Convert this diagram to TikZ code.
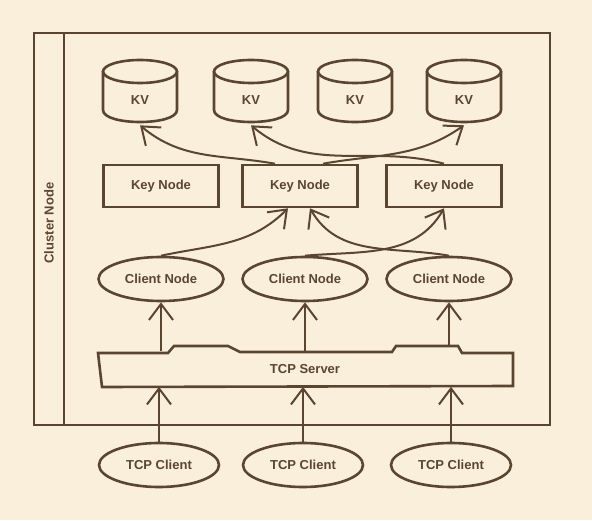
\documentclass[tikz,border=0pt]{standalone}
\usepackage{fontspec}
\setmainfont{Liberation Sans}
\usetikzlibrary{arrows.meta,shapes.geometric}
\definecolor{fon}{HTML}{FAEFDB}
\definecolor{ink}{HTML}{5A4630}

\begin{document}
\begin{tikzpicture}[x=1pt,y=1pt,color=ink,line width=2.6pt,
    font=\fontsize{13}{15}\selectfont\bfseries,
    keybox/.style={draw,rectangle,minimum width=115pt,minimum height=42pt,inner sep=0pt},
    oval/.style={draw,ellipse,minimum width=#1,minimum height=44pt,inner sep=0pt},
    link/.style={line width=2pt,-{Straight Barb[length=16pt,width=24pt]}}]
        % Фон
        \fill[fon] (0,0) rectangle (592,520);
        \useasboundingbox (0,0) rectangle (592,520);

        % Кластер
        \draw (34,95) rectangle (550,487);
        \draw (64,95) -- (64,487);
        \node[rotate=90] (clus) at (49,297) {Cluster Node};

        % Хранилища
        \foreach \i/\x in {1/140,2/251,3/355,4/464}
        {
            \draw (\x,448.5) ellipse (37 and 11.5);
            \draw (\x-37,448.5) -- (\x-37,410)
                .. controls (\x-37,394) and (\x+37,394) .. (\x+37,410) -- (\x+37,448.5);
            \node[minimum height=48pt] (kv\i) at (\x,420) {KV};
        }

        % Узлы ключей
        \node[keybox] (key1) at (161,334) {Key Node};
        \node[keybox] (key2) at (300,334) {Key Node};
        \node[keybox] (key3) at (444,334) {Key Node};

        % Клиентские узлы
        \node[oval=125pt] (cli1) at (161,241) {Client Node};
        \node[oval=125pt] (cli2) at (305,241) {Client Node};
        \node[oval=125pt] (cli3) at (449,241) {Client Node};

        % Сервер
        \draw (98,167) -- (168,167) -- (174,174) -- (228,174) -- (240,168)
            -- (392,168) -- (396,174) -- (458,174) -- (462,167) -- (513,167)
            -- (513,134) -- (102,133) -- cycle;
        \node[minimum width=410pt,minimum height=33pt] (srv) at (305,151) {TCP Server};

        % TCP-клиенты
        \node[oval=120pt] (tcp1) at (159,55) {TCP Client};
        \node[oval=120pt] (tcp2) at (303,55) {TCP Client};
        \node[oval=120pt] (tcp3) at (451,55) {TCP Client};

        % Вертикальные стрелки
        \foreach \i/\s in {1/0,2/0,3/6}
        {
            \draw[link] (tcp\i.north) -- (tcp\i.north |- srv.south);
            \draw[link] ([yshift=\s pt]cli\i.south |- srv.north) -- (cli\i.south);
        }

        % Связи между узлами
        \draw[link] (cli1.north) to[out=12,in=225] ([xshift=-12pt]key2.south);
        \draw[link] (cli2.north) to[out=5,in=240] (key3.south);
        \draw[link] (cli3.north) to[out=170,in=-60] ([xshift=10pt]key2.south);
        \draw[link] ([xshift=-25pt]key2.north) to[out=170,in=-40] (kv1.south);
        \draw[link] ([xshift=23pt]key2.north) to[out=10,in=215] (kv4.south);
        \draw[link] (key3.north) to[out=165,in=-40] (kv2.south);
\end{tikzpicture}
\end{document}
